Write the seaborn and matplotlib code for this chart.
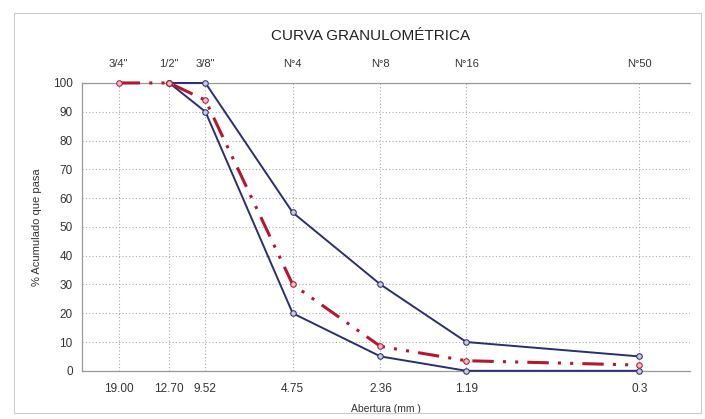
import matplotlib
matplotlib.use("Agg")
import matplotlib.pyplot as plt
import seaborn as sns
import pandas as pd
from matplotlib.patches import Rectangle
from matplotlib.ticker import MultipleLocator, NullLocator

# sieve openings (mm) and names
abertura = [19.00, 12.70, 9.52, 4.75, 2.36, 1.19, 0.3]
abertura_lbl = ["19.00", "12.70", "9.52", "4.75", "2.36", "1.19", "0.3"]
tamiz = ['3/4"', '1/2"', '3/8"', 'N°4', 'N°8', 'N°16', 'N°50']

# limits (start at 1/2")
lim_abertura = [12.70, 9.52, 4.75, 2.36, 1.19, 0.3]
lim_superior = [100, 100, 55, 30, 10, 5]
lim_inferior = [100, 90, 20, 5, 0, 0]

# sample
muestra = [100, 100, 94, 30, 8.5, 3.5, 2]

sns.set_style("white")
plt.rcParams['font.family'] = ['Liberation Sans', 'DejaVu Sans']

fig = plt.figure(figsize=(7.05, 4.19), dpi=100)
ax = fig.add_axes([0.116, 0.115, 0.863, 0.687])

navy = "#2b2f6e"
red = "#b3182f"

df_sup = pd.DataFrame({"x": lim_abertura, "y": lim_superior})
df_inf = pd.DataFrame({"x": lim_abertura, "y": lim_inferior})
df_mue = pd.DataFrame({"x": abertura, "y": muestra})

sns.lineplot(data=df_sup, x="x", y="y", ax=ax, color=navy, lw=1.4, marker="o",
             markersize=4, markerfacecolor="#c8cbe0", markeredgecolor=navy,
             estimator=None, sort=False, clip_on=False, zorder=4)
sns.lineplot(data=df_inf, x="x", y="y", ax=ax, color=navy, lw=1.4, marker="o",
             markersize=4, markerfacecolor="#c8cbe0", markeredgecolor=navy,
             estimator=None, sort=False, clip_on=False, zorder=4)
sns.lineplot(data=df_mue, x="x", y="y", ax=ax, color=red, lw=2.2, marker="o",
             markersize=4, markerfacecolor="#e8c0c6", markeredgecolor=red,
             estimator=None, sort=False, clip_on=False, zorder=5,
             dashes=False)
ax.lines[-1].set_dashes([7, 3, 1, 3, 1, 3])

ax.set_xscale("log")
ax.set_xlim(25.5, 0.2)
ax.set_ylim(0, 100)
ax.set_xticks(abertura)
ax.set_xticklabels(abertura_lbl, fontsize=8.5, color="#333333")
ax.xaxis.set_minor_locator(NullLocator())
ax.set_yticks(range(0, 101, 10))
ax.tick_params(axis="y", labelsize=8.5, labelcolor="#333333", length=3, color="#999999")
ax.tick_params(axis="x", length=3, color="#999999", pad=6)
ax.yaxis.set_minor_locator(MultipleLocator(2))
ax.tick_params(axis="y", which="minor", length=2, color="#bbbbbb")

ax.grid(True, which="major", color="#aaaaaa", linestyle=(0, (1, 2)), lw=0.8)
ax.spines["right"].set_visible(False)
for s in ["left", "bottom", "top"]:
    ax.spines[s].set_color("#999999")
    ax.spines[s].set_linewidth(0.9)

ax.set_xlabel("Abertura (mm )", fontsize=7.5, color="#333333", labelpad=6)
ax.set_ylabel("% Acumulado que pasa", fontsize=8, color="#333333", labelpad=8)

top = ax.secondary_xaxis("top")
top.set_xticks(abertura)
top.set_xticklabels(tamiz, fontsize=8, color="#333333")
top.xaxis.set_minor_locator(NullLocator())
top.tick_params(length=0, pad=10)
top.spines["top"].set_visible(False)

fig.text(0.525, 0.915, "CURVA GRANULOMÉTRICA", ha="center", va="center",
         fontsize=11, color="#222222")

fig.patches.append(Rectangle((0.02, 0.015), 0.975, 0.955, transform=fig.transFigure,
                             fill=False, edgecolor="#cccccc", lw=0.8))

fig.savefig("out.png", dpi=100)
